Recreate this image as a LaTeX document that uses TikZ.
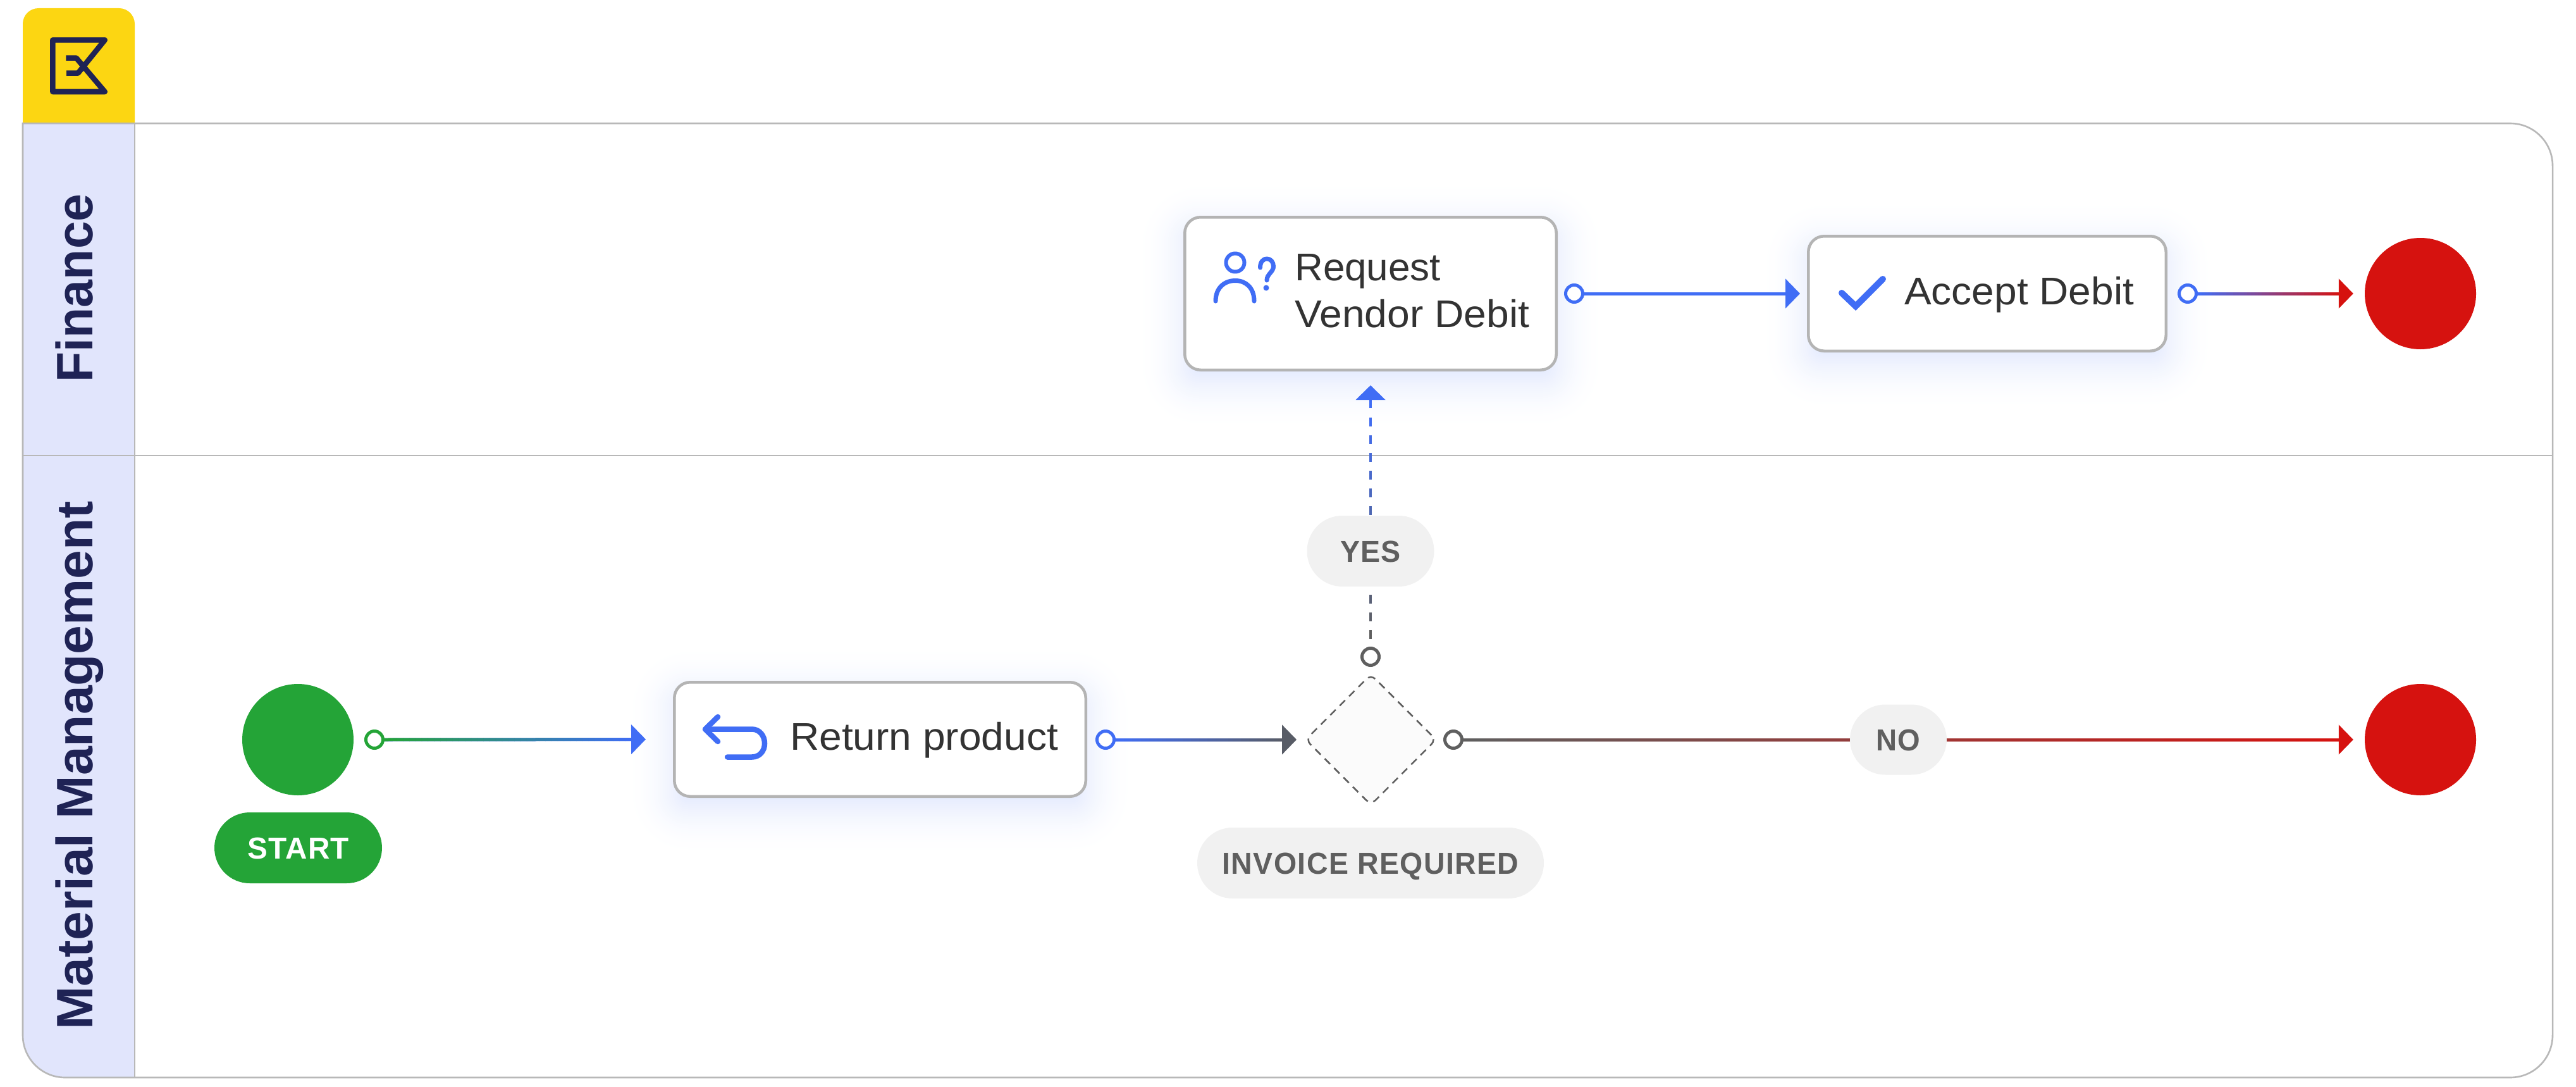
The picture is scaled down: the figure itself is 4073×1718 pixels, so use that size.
\documentclass[tikz,border=0pt]{standalone}
\usepackage{fontspec}
\usepackage{graphicx}
\setmainfont{Liberation Sans}
\newfontfamily\pillfont[LetterSpace=3]{Liberation Sans}
\usetikzlibrary{arrows.meta,shapes.geometric}
\definecolor{cyellow}{HTML}{FCD612}
\definecolor{cnavy}{HTML}{1F2355}
\definecolor{clane}{HTML}{E1E5FC}
\definecolor{cline}{HTML}{B8B8B8}
\definecolor{cgreen}{HTML}{24A437}
\definecolor{cred}{HTML}{D6120F}
\definecolor{cblue}{HTML}{406DF5}
\definecolor{cslate}{HTML}{585C66}
\definecolor{cgrey}{HTML}{5F5F5F}
\definecolor{cpill}{HTML}{F1F1F1}
\definecolor{ctext}{HTML}{333333}
\definecolor{cbox}{HTML}{B4B4B4}
\definecolor{cdia}{HTML}{FBFBFB}
\newcommand{\fitw}[2]{\resizebox{#1pt}{\height}{#2}}
% soft shadow: opaque layers from the outermost, palest one inwards
\newcommand{\softshadow}[4]{%
  \foreach \s in {75,72,...,-30}{%
    \pgfmathsetmacro\rr{max(25+\s,4)}%
    \pgfmathsetmacro\pct{17*(1-(\s+30)/105)^2}%
    \fill[cblue!\pct!white,rounded corners=\rr pt]
      (#1-\s,#2-\s+18) rectangle (#3+\s,#4+\s+18);
  }%
}
% from anchor, to anchor, start colour, end colour, anchor distance, gap before the tip
\newcommand{\gradconn}[6]{%
  \draw[conn,draw=#4,fill=#4,shorten >=#6pt] (#1) -- (#2);
  \pgfmathsetmacro\lineend{(#5-#6-22)/40}%
  \foreach \i in {0,...,39}{%
    \pgfmathsetmacro\sa{\lineend*\i}%
    \pgfmathsetmacro\sb{#5-\lineend*(\i+1)-(\i<39?0.6:0)}%
    \pgfmathtruncatemacro\pc{100*(\i+.5)/40}%
    \draw[line width=5pt,draw=#4!\pc!#3,shorten <=\sa pt,shorten >=\sb pt] (#1) -- (#2);
  }%
}
\tikzset{
  conn/.style={line width=5pt,-{Triangle[length=23pt,width=46pt]}},
  laneline/.style={draw=cline,line width=2.6pt},
  port/.style={circle,draw=#1,fill=white,line width=5pt,minimum size=27pt,inner sep=0pt},
  taskbox/.style={rectangle,draw=cbox,fill=white,line width=4.5pt,rounded corners=25pt,inner sep=0pt},
  disc/.style={circle,fill=#1,minimum size=176pt,inner sep=0pt},
  pillbox/.style={rectangle,fill=#1,rounded corners=55.9pt,minimum height=112pt,inner sep=0pt,
    text height=34pt,text depth=0pt,font=\fontsize{48}{50}\selectfont\pillfont\bfseries},
  tasktext/.style={inner sep=0pt,text=ctext,font=\fontsize{61}{74}\selectfont},
  lanetext/.style={inner sep=0pt,rotate=90,anchor=base west,text=cnavy,font=\fontsize{81}{90}\selectfont\bfseries},
  icon/.style={draw=cblue,line cap=round,line join=round}
}
\begin{document}
\begin{tikzpicture}[x=1pt,y=-1pt]
\useasboundingbox (0,0) rectangle (4073,1718);
\fill[white] (0,0) rectangle (4073,1718);

% logo tab
\fill[cyellow] (36,195) -- (36,38) .. controls (36,24) and (47,13) .. (61,13) -- (188,13)
  .. controls (202,13) and (213,24) .. (213,38) -- (213,195) -- cycle;
\draw[cnavy,line width=8.5pt,line join=round]
  (104.3,91.7) -- (120.7,91.7) -- (165.7,145) -- (83.3,145) -- (83.3,63.3) -- (165.7,63.3) -- (123.3,115.7) -- (105,115.7);

% swimlanes
\fill[clane] (213,195) -- (36,195) -- (36,1636) .. controls (36,1673) and (66,1703) .. (103,1703) -- (213,1703) -- cycle;
\draw[laneline] (36,195) -- (3969,195) .. controls (4006,195) and (4036,225) .. (4036,262) -- (4036,1636)
  .. controls (4036,1673) and (4006,1703) .. (3969,1703) -- (103,1703)
  .. controls (66,1703) and (36,1673) .. (36,1636) -- cycle;
\draw[laneline] (213,195) -- (213,1703);
\node[lanetext] (lane1) at (146,604.5) {\fitw{298}{Finance}};
\node[lanetext] (lane2) at (146,1628) {\fitw{836}{Material Management}};

% shadows
\softshadow{1064}{1076}{1719}{1261}
\softshadow{1871}{341}{2463}{587}
\softshadow{2857}{371}{3427}{557}
\draw[laneline] (36,720) -- (4036,720);

% nodes
\node[disc=cgreen] (start) at (471,1169) {};
\node[pillbox=cgreen,minimum width=265pt,text=white] (startlabel) at (471.5,1340) {\fitw{161}{START}};
\node[taskbox,minimum width=650.5pt,minimum height=180.5pt] (ret) at (1391.5,1168.5) {};
\node[diamond,aspect=1,draw=cgrey,fill=cdia,line width=2.5pt,dash pattern=on 12pt off 9pt,
  rounded corners=10pt,minimum width=206pt,minimum height=206pt,inner sep=0pt,outer sep=0pt] (dia) at (2167.5,1169) {};
\node[taskbox,minimum width=587.5pt,minimum height=241.5pt] (req) at (2167,464) {};
\node[taskbox,minimum width=565.5pt,minimum height=181.5pt] (acc) at (3142,464) {};
\node[disc=cred] (end1) at (3827,464) {};
\node[disc=cred] (end2) at (3827,1169) {};

\node[port=cgreen] (pstart) at (592,1169) {};
\node[port=cblue] (pret) at (1748,1169) {};
\node[port=cgrey] (pdiatop) at (2167,1038) {};
\node[port=cgrey] (pdiaright) at (2298,1169) {};
\node[port=cblue] (preq) at (2489,464) {};
\node[port=cblue] (pacc) at (3459,464) {};

% connectors
\gradconn{pstart.east}{ret.west}{cgreen}{cblue}{456}{43}
\gradconn{pret.east}{dia.west}{cblue}{cslate}{300.5}{14.5}
\gradconn{pdiaright.east}{end2.west}{cgrey}{cred}{1425}{18}
\draw[conn,draw=cblue,fill=cblue,shorten >=11pt] (preq.east) -- (acc.west);
\gradconn{pacc.east}{end1.west}{cblue}{cred}{264}{18}
% dashed decision branch: grey at the port, blue at the tip
\draw[conn,line width=4.4pt,draw=cblue,fill=cblue,shorten >=22pt,shorten <=377pt] (pdiatop.north) -- (req.south);
\foreach \i in {0,...,12}{%
  \pgfmathsetmacro\sa{12.5+28*\i}%
  \pgfmathsetmacro\sb{435-\sa-14}%
  \pgfmathtruncatemacro\pc{8*\i}%
  \draw[line width=4.4pt,draw=cblue!\pc!cgrey,shorten <=\sa pt,shorten >=\sb pt] (pdiatop.north) -- (req.south);
}

% branch labels
\node[pillbox=cpill,minimum width=201pt,text=cgrey] (yes) at (2167,871) {\fitw{96}{YES}};
\node[pillbox=cpill,minimum width=153pt,minimum height=111pt,text=cgrey] (no) at (3001.5,1169) {\fitw{70}{NO}};
\node[pillbox=cpill,minimum width=548pt,text=cgrey] (inv) at (2167,1364) {\fitw{469}{INVOICE REQUIRED}};

% task texts
\node[tasktext,anchor=base west] (rettext) at (1249,1185) {\fitw{424}{Return product}};
\node[tasktext,anchor=base west] (acctext) at (3011,481) {\fitw{363}{Accept Debit}};
\node[tasktext,anchor=base west,align=left] (reqtext) at (2047,517) {\fitw{231}{Request}\\\fitw{371}{Vendor Debit}};

% icons
\draw[icon,line width=8.5pt] (1135,1133) -- (1115,1152.5) -- (1135,1172);
\draw[icon,line width=8.5pt] (1115,1152.5) -- (1189,1152.5)
  .. controls (1201,1152.5) and (1209,1163) .. (1209,1175)
  .. controls (1209,1187) and (1201,1196.5) .. (1189,1196.5) -- (1150,1196.5);
\draw[icon,line width=6pt] (1953,415) circle[radius=14.5pt];
\draw[icon,line width=7pt] (1922,476) .. controls (1922,455) and (1936,443.5) .. (1953,443.5)
  .. controls (1970,443.5) and (1983,455) .. (1983,476);
\draw[icon,line width=7pt] (1992.5,423) .. controls (1992.5,413) and (1998,409) .. (2003,409)
  .. controls (2009,409) and (2013.5,414) .. (2013.5,421)
  .. controls (2013.5,430) and (2003,433) .. (2003,443);
\fill[cblue] (2002,455) circle[radius=4.5pt];
\draw[cblue,line width=10pt,line cap=round,line join=miter] (2912,463) -- (2934,484) -- (2977,441);
\end{tikzpicture}
\end{document}
